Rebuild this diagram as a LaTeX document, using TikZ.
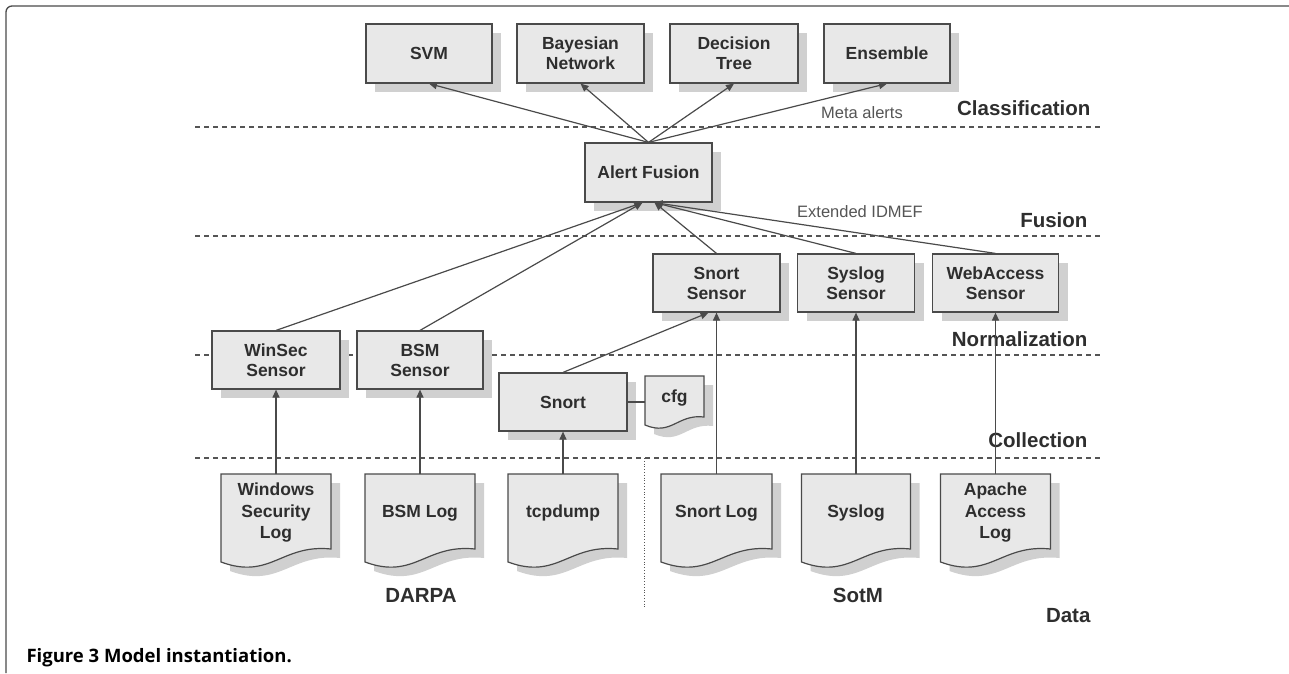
\documentclass[tikz,border=0pt]{standalone}
\usepackage{fontspec}
\newfontfamily\diagfont{Liberation Sans}
\newfontfamily\capfont{Open Sans}
\usetikzlibrary{arrows.meta,shadows}
\definecolor{boxfill}{HTML}{E8E8E8}
\definecolor{shadegray}{HTML}{D0D0D0}
\definecolor{linegray}{HTML}{4A4A4A}
\definecolor{textgray}{HTML}{2E2E2E}
\definecolor{lightgray}{HTML}{555555}
\tikzset{%
  % Specifications for style of nodes:
          base/.style = {draw=linegray, line width=1.2pt, fill=boxfill, text=textgray,
                         align=center, inner sep=0pt,
                         font=\diagfont\bfseries\fontsize{17.5}{20}\selectfont},
        sensor/.style = {base, minimum height=58pt,
                         drop shadow={shadow xshift=9pt, shadow yshift=-9pt,
                                      fill=shadegray, opacity=1}},
       logtext/.style = {align=center, inner sep=0pt, text=textgray, minimum height=78pt,
                         font=\diagfont\bfseries\fontsize{17.5}{21.5}\selectfont},
         layer/.style = {anchor=east, text=textgray,
                         font=\diagfont\bfseries\fontsize{20.5}{24}\selectfont},
       msgtext/.style = {text=lightgray, font=\diagfont\fontsize{16.5}{20}\selectfont},
  % Specifications for lines:
           pil/.style = {-{Triangle[length=8pt,width=7pt]}, draw=linegray, line width=1.2pt},
      layerline/.style = {draw=lightgray, line width=1.1pt, dash pattern=on 5pt off 4pt},
  % document shape: width, top, left bottom, right end
  pics/logdoc/.style n args={4}{code={
      \pgfmathsetmacro\dochw{#1/2}
      \pgfmathsetmacro\doccx{0.05*#1}
      \pgfmathsetmacro\docca{#4-0.4*(#3-#4)}
      \pgfmathsetmacro\doccb{#3+1.4*(#3-#4)}
      \fill[shadegray, shift={(9,9)}] (-\dochw,-#2) -- (\dochw,-#2) -- (\dochw,#4)
          .. controls (\doccx,\docca) and (-\doccx,\doccb) .. (-\dochw,#3) -- cycle;
      \filldraw[fill=boxfill, draw=linegray, line width=1.2pt] (-\dochw,-#2) -- (\dochw,-#2)
          -- (\dochw,#4) .. controls (\doccx,\docca) and (-\doccx,\doccb) .. (-\dochw,#3) -- cycle;
  }}
}
\begin{document}
\begin{tikzpicture}[x=1pt, y=-1pt]
\useasboundingbox (0,0) rectangle (1289,673);

% frame
\draw[linegray, line width=1.3pt, rounded corners=6pt] (6,673) -- (6,6) -- (1289,6);

% layer separators
\foreach \ly in {127,236,355,458}
  \draw[layerline] (195,\ly) -- (1101,\ly);
\draw[lightgray, line width=0.8pt, dotted] (644,458) -- (644,609);

% classification
\node (svm)      [sensor, minimum width=126pt, minimum height=59pt] at (429,53.5)   {SVM};
\node (bayes)    [sensor, minimum width=127pt, minimum height=59pt] at (580.5,53.5) {Bayesian\\Network};
\node (dtree)    [sensor, minimum width=128pt, minimum height=59pt] at (734,53.5)   {Decision\\Tree};
\node (ensemble) [sensor, minimum width=126pt, minimum height=59pt] at (887,53.5)   {Ensemble};

% fusion
\node (fusion) [sensor, minimum width=127pt, minimum height=59pt] at (648.5,172.5) {Alert Fusion};

% normalization
\node (snortsensor)  [sensor, minimum width=127pt] at (716.5,283) {Snort\\Sensor};
\node (syslogsensor) [sensor, minimum width=117pt] at (856,283)   {Syslog\\Sensor};
\node (websensor)    [sensor, minimum width=126pt] at (995.5,283) {WebAccess\\Sensor};
\node (winsec)       [sensor, minimum width=128pt] at (276,360)   {WinSec\\Sensor};
\node (bsmsensor)    [sensor, minimum width=126pt] at (420,360)   {BSM\\Sensor};

% collection
\node (snort) [sensor, minimum width=128pt] at (563,402) {Snort};
\pic at (674.5,398) {logdoc={59}{22}{27}{19}};
\node (cfgdoc) [logtext, minimum width=59pt, minimum height=44pt] at (674.5,398) {cfg};

% data
\pic at (276,513)   {logdoc={110}{39}{49}{36}};
\pic at (420,513)   {logdoc={110}{39}{49}{36}};
\pic at (563,513)   {logdoc={110}{39}{49}{36}};
\pic at (716.5,513) {logdoc={111}{39}{49}{36}};
\pic at (856,513)   {logdoc={109}{39}{49}{36}};
\pic at (995.5,513) {logdoc={110}{39}{49}{36}};
\node (winlog)    [logtext, minimum width=110pt] at (276,513)   {Windows\\Security\\Log};
\node (bsmlog)    [logtext, minimum width=110pt] at (420,513)   {BSM Log};
\node (tcpdump)   [logtext, minimum width=110pt] at (563,513)   {tcpdump};
\node (snortlog)  [logtext, minimum width=111pt] at (716.5,513) {Snort Log};
\node (syslog)    [logtext, minimum width=109pt] at (856,513)   {Syslog};
\node (apachelog) [logtext, minimum width=110pt] at (995.5,513) {Apache\\Access\\Log};

% layer names
\node (lclass) [layer] at (1094,108) {Classification};
\node (lfus)   [layer] at (1091,220) {Fusion};
\node (lnorm)  [layer] at (1091,339) {Normalization};
\node (lcoll)  [layer] at (1091,440) {Collection};
\node (ldata)  [layer] at (1094,616) {Data};
\node (darpa)  [layer, anchor=center] at (421,595) {DARPA};
\node (sotm)   [layer, anchor=center] at (858,595) {SotM};
\node (meta)   [msgtext] at (862,113) {Meta alerts};
\node (idmef)  [msgtext] at (860,212) {Extended IDMEF};

% connectors
\draw[pil] (winlog.north) -- (winsec.south);
\draw[pil] (bsmlog.north) -- (bsmsensor.south);
\draw[pil] (tcpdump.north) -- (snort.south);
\draw[pil] (snortlog.north) -- (snortsensor.south);
\draw[pil] (syslog.north) -- (syslogsensor.south);
\draw[pil] (apachelog.north) -- (websensor.south);
\draw[linegray, line width=1.2pt] (snort.east) -- (snort.east -| cfgdoc.west);
\draw[pil] (snort.north) -- ([xshift=-8pt]snortsensor.south);
\draw[pil] (winsec.north) -- ([xshift=-6pt]fusion.south);
\draw[pil] (bsmsensor.north) -- ([xshift=-6pt]fusion.south);
\foreach \src in {snortsensor,syslogsensor,websensor}
  \draw[pil] (\src.north) -- ([xshift=6pt]fusion.south);
\foreach \dst in {svm,bayes,dtree,ensemble}
  \draw[pil] (fusion.north) -- (\dst.south);

% caption
\node (caption) [anchor=west, text=black, font=\capfont\bfseries\fontsize{18.5}{22}\selectfont]
  at (23,658) {Figure 3 Model instantiation.};
\end{tikzpicture}
\end{document}
